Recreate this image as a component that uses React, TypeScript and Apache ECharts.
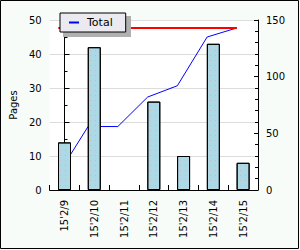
import React, { useEffect, useRef } from 'react';
import * as echarts from 'echarts';

const categories = ["15'2/9", "15'2/10", "15'2/11", "15'2/12", "15'2/13", "15'2/14", "15'2/15"];
const pages = [14, 42, 0, 26, 10, 43, 8];
const cumulativePages = [14, 56, 56, 82, 92, 135, 143];
const totalPages = [143, 143, 143, 143, 143, 143, 143];
const leftAxis = { min: 0, max: 50, interval: 10 };
const rightAxis = { min: 0, max: 150, interval: 50 };

const W = 300;
const H = 250;
const GRID = { left: 40, right: 42, top: 20, bottom: 60 };
const BAR_W = 13;
const FONT = 'DejaVu Sans';

export default function App() {
  const ref = useRef<HTMLDivElement>(null);
  useEffect(() => {
    const chart = echarts.init(ref.current!, null, { renderer: 'svg', width: W, height: H });
    const catW = (W - GRID.left - GRID.right) / categories.length;
    const lineShift = BAR_W / 2 / catW; // line vertices sit on the bars' left edges
    const toXY = (vals: number[]) => vals.map((v, i) => [i - lineShift, v]);
    const barData = pages.map((v) => (v === 0 ? { value: v, itemStyle: { borderWidth: 0 } } : v));
    chart.setOption({
      animation: false,
      backgroundColor: '#f8fcf8',
      textStyle: { fontFamily: FONT },
      grid: {
        left: GRID.left, right: GRID.right, top: GRID.top, bottom: GRID.bottom,
        show: true, backgroundColor: '#ffffff', borderWidth: 0,
      },
      legend: {
        left: 60, top: 13,
        data: ['Total'],
        icon: 'rect', itemWidth: 10, itemHeight: 2,
        padding: [4, 13, 4, 9],
        backgroundColor: '#ebeaf0', borderColor: '#000', borderWidth: 1,
        selectedMode: false,
        textStyle: { fontSize: 11, color: '#000', fontFamily: FONT, padding: [0, 0, 0, 3] },
      },
      graphic: [
        { type: 'rect', shape: { x: 63, y: 16, width: 68, height: 21 }, style: { fill: '#b0b0b0' }, z: 3, silent: true },
        { type: 'rect', shape: { x: 0.5, y: 0.5, width: 298, height: 248 }, style: { fill: 'none', stroke: '#000', lineWidth: 1 }, z: 10, silent: true },
      ],
      xAxis: [
        {
          type: 'category', data: categories, boundaryGap: true,
          axisLine: { lineStyle: { color: '#000' } },
          axisTick: { show: true, inside: true, length: 5, interval: 0, lineStyle: { color: '#000' } },
          axisLabel: { rotate: 90, interval: 0, margin: 10, fontSize: 10, color: '#000', fontFamily: FONT },
          splitLine: { show: false },
        },
        { type: 'value', min: -0.5, max: categories.length - 0.5, show: false },
      ],
      yAxis: [
        {
          type: 'value', position: 'left', ...leftAxis,
          name: 'Pages', nameLocation: 'middle', nameGap: 26,
          nameTextStyle: { fontSize: 10, color: '#000', fontFamily: FONT },
          axisLine: { show: true, lineStyle: { color: '#000' } },
          axisTick: { show: true, inside: true, length: 5, lineStyle: { color: '#000' } },
          minorTick: { show: true, splitNumber: 2, length: 3, lineStyle: { color: '#000' } },
          axisLabel: { margin: 8, fontSize: 10, color: '#000', fontFamily: FONT },
          splitLine: { show: true, lineStyle: { color: '#dcdcdc', width: 1 } },
        },
        {
          type: 'value', position: 'right', ...rightAxis,
          axisLine: { show: true, lineStyle: { color: '#000' } },
          axisTick: { show: true, inside: true, length: 4, lineStyle: { color: '#000' } },
          minorTick: { show: true, splitNumber: 5, length: 3, lineStyle: { color: '#000' } },
          axisLabel: { margin: 8, fontSize: 10, color: '#000', fontFamily: FONT },
          splitLine: { show: false },
        },
      ],
      series: [
        {
          name: 'Pages', type: 'bar', data: barData, barWidth: BAR_W, z: 3,
          xAxisIndex: 0, yAxisIndex: 0, silent: true,
          itemStyle: {
            color: '#add8e6', borderColor: '#000', borderWidth: 1,
            decal: { symbol: 'rect', symbolSize: 1, dashArrayX: [1, 4], dashArrayY: [1, 4], color: 'rgba(225,160,160,0.55)' },
          },
        },
        {
          name: 'Total', type: 'line', data: toXY(cumulativePages), xAxisIndex: 1, yAxisIndex: 1,
          symbol: 'none', showSymbol: false, z: 2, silent: true,
          lineStyle: { color: '#0000ff', width: 1 }, itemStyle: { color: '#0000ff' },
        },
        {
          name: 'Sum', type: 'line', data: toXY(totalPages), xAxisIndex: 1, yAxisIndex: 1,
          symbol: 'none', showSymbol: false, z: 2, silent: true,
          lineStyle: { color: '#ff0000', width: 2 }, itemStyle: { color: '#ff0000' },
        },
      ],
    });
    return () => chart.dispose();
  }, []);
  return <div ref={ref} style={{ position: 'absolute', left: 0, top: 0, width: W, height: H }} />;
}
